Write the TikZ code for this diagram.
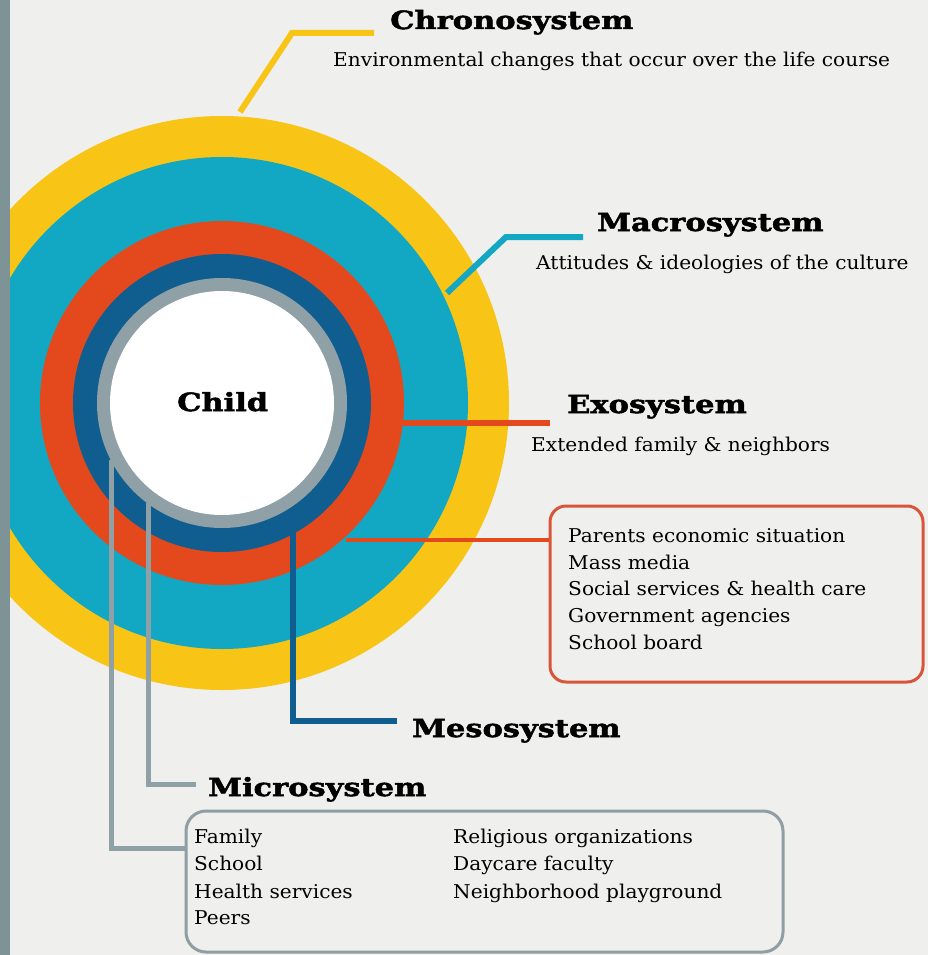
\documentclass[tikz,border=0pt]{standalone}
\usepackage{fontspec}
\setmainfont{DejaVu Serif}
\newfontfamily\titlefont[FakeStretch=1.22,FakeBold=2]{DejaVu Serif}
\newfontfamily\bodyfont[FakeStretch=1.06]{DejaVu Serif}
\definecolor{bgc}{HTML}{EFEFED}
\definecolor{barc}{HTML}{7D9396}
\definecolor{yel}{HTML}{F8C516}
\definecolor{tea}{HTML}{12A8C4}
\definecolor{ora}{HTML}{E4491D}
\definecolor{dbl}{HTML}{0F5E8F}
\definecolor{gri}{HTML}{8FA0A6}
\definecolor{boxr}{HTML}{D9553A}
\definecolor{boxg}{HTML}{8E9EA3}
\tikzset{
  ttl/.style={anchor=base west, inner sep=0pt, font=\titlefont\bfseries\fontsize{25}{29}\selectfont},
  txt/.style={anchor=base west, inner sep=0pt, font=\bodyfont\fontsize{19}{23}\selectfont},
  conn/.style={line width=6pt},
  thinconn/.style={line width=3.5pt},
  boxst/.style={draw, line width=3pt, rounded corners=16pt, fill=none, inner sep=0pt}
}
\begin{document}
\begin{tikzpicture}[x=1pt,y=-1pt]
\useasboundingbox (0,0) rectangle (928,955);
\fill[bgc] (0,0) rectangle (928,955);
% rings
\coordinate (c) at (222,403);
\fill[yel] (c) circle [radius=287pt];
\fill[tea] (c) circle [radius=246pt];
\fill[ora] (c) circle [radius=182pt];
\fill[dbl] (c) circle [radius=149pt];
\fill[gri] (c) circle [radius=125pt];
\fill[white] (c) circle [radius=112pt];
% boxes
\node[boxst, draw=boxr, minimum width=373pt, minimum height=176pt] (exobox) at (736.5,594) {};
\node[boxst, draw=boxg, rounded corners=20pt, minimum width=597pt, minimum height=141pt] (microbox) at (484.5,881.5) {};
% connector points
\coordinate (chA) at (240,112);
\coordinate (chB) at (292,33);
\coordinate (chC) at (374,33);
\coordinate (maA) at (447,293);
\coordinate (maB) at (506,237);
\coordinate (maC) at (583,237);
\coordinate (exA) at (403,423);
\coordinate (exC) at (550,423);
\coordinate (bxA) at (346,540);
\coordinate (meA) at (293,533);
\coordinate (meB) at (293,721);
\coordinate (meC) at (397,721);
\coordinate (miA) at (148,503);
\coordinate (miB) at (148,784);
\coordinate (miC) at (196,784);
\coordinate (moA) at (111,460);
\coordinate (moB) at (111,848);
% connectors
\draw[conn, yel] (chA) -- (chB) -- (chC);
\draw[conn, tea] (maA) -- (maB) -- (maC);
\draw[conn, ora] (exA) -- (exC);
\draw[thinconn, ora] (bxA) -- (bxA -| exobox.west);
\draw[conn, dbl] (meA) -- (meB) -- (meC);
\draw[line width=5pt, gri] (miA) -- (miB) -- (miC);
\draw[line width=5pt, gri] (moA) -- (moB) -- (moB -| microbox.west);
% left bar
\fill[barc] (0,0) rectangle (10,955);
% texts
\node[ttl] (child) at (177,411) {Child};
\node[ttl] (chrono) at (390,29) {Chronosystem};
\node[txt] (chronot) at (333,67) {Environmental changes that occur over the life course};
\node[ttl] (macro) at (597,231) {Macrosystem};
\node[txt] (macrot) at (536,269) {Attitudes \& ideologies of the culture};
\node[ttl] (exo) at (567,413) {Exosystem};
\node[txt] (exot) at (531,451) {Extended family \& neighbors};
\node[txt] (e1) at (568,542) {Parents economic situation};
\node[txt] (e2) at (568,569) {Mass media};
\node[txt] (e3) at (568,595) {Social services \& health care};
\node[txt] (e4) at (568,622) {Government agencies};
\node[txt] (e5) at (568,649) {School board};
\node[ttl] (meso) at (412,737) {Mesosystem};
\node[ttl] (micro) at (208,796) {Microsystem};
\node[txt] (m1) at (194,843) {Family};
\node[txt] (m2) at (194,870) {School};
\node[txt] (m3) at (194,898) {Health services};
\node[txt] (m4) at (194,924) {Peers};
\node[txt] (m5) at (453,843) {Religious organizations};
\node[txt] (m6) at (453,870) {Daycare faculty};
\node[txt] (m7) at (453,898) {Neighborhood playground};
\end{tikzpicture}
\end{document}
